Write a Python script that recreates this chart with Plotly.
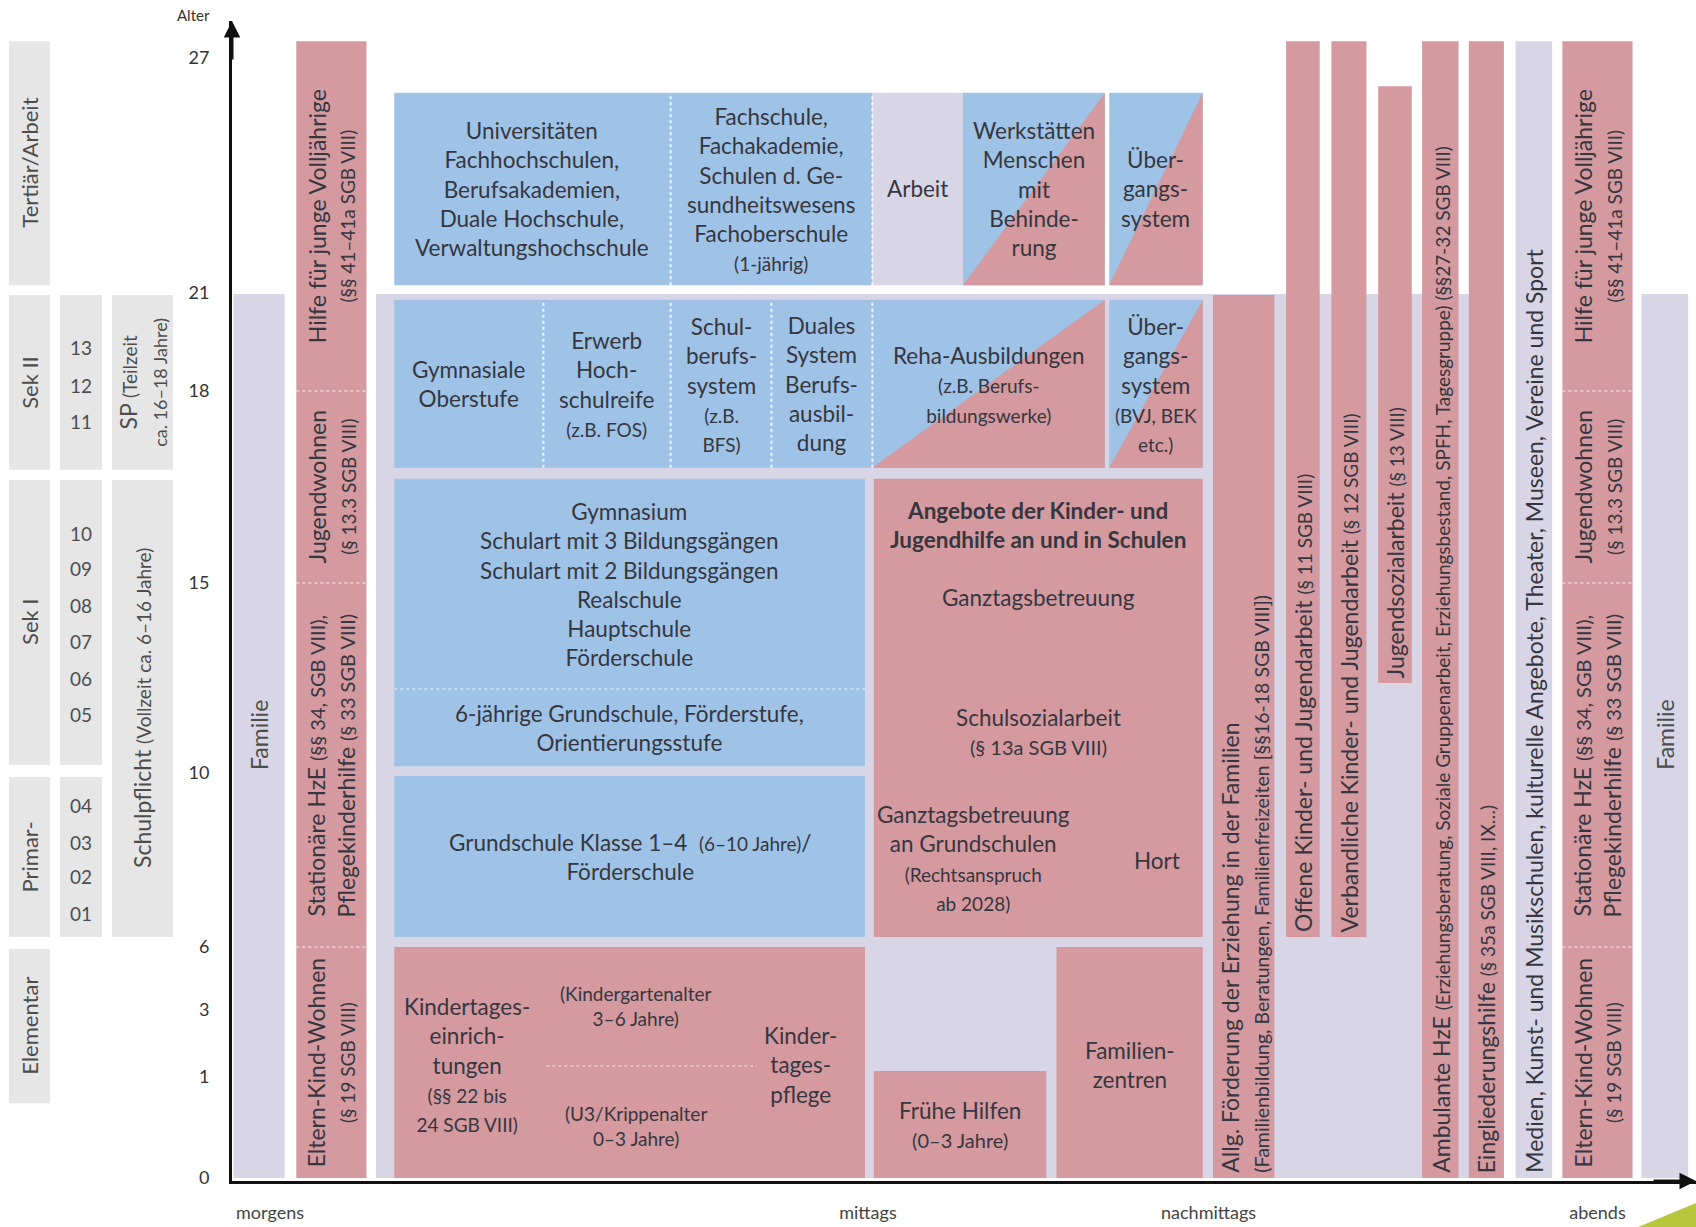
import numpy as np
import plotly.graph_objects as go

# ------------------------------------------------------------------ data
AGE_TICKS = [0, 1, 3, 6, 10, 15, 18, 21, 27]
TIME_LABELS = ["morgens", "mittags", "nachmittags", "abends"]
TIME_AT = [2.6, 43.5, 66.8, 93.4]            # Tageszeit-Skala 0 … 100

STAGE_NAMES = ["Tertiär/Arbeit", "Sek II", "Sek I", "Primar-", "Elementar"]
STAGE_FROM = [21.20, 16.77, 10.21, 6.23, 0.74]
STAGE_TO = [27.43, 20.94, 16.61, 9.91, 5.90]

GRADE_BLOCK_FROM = [16.77, 10.21, 6.23]
GRADE_BLOCK_TO = [20.94, 16.61, 9.91]
GRADE_LABELS = ["13", "12", "11", "10", "09", "08", "07", "06", "05", "04", "03", "02", "01"]
GRADE_AGE = [19.32, 18.18, 17.53, 15.78, 15.23, 14.42, 13.45, 12.5, 11.53, 9.26, 8.41, 7.61, 6.78]


def sm(t, s=19):
    return f"<span style='font-size:{s}px'>{t}</span>"


DUTY_LABELS = ["SP " + sm("(Teilzeit", 19) + "<br>" + sm("ca. 16–18 Jahre)", 18),
               "Schulpflicht " + sm("(Vollzeit ca. 6–16 Jahre)", 19)]
DUTY_FROM = [16.77, 6.23]
DUTY_TO = [20.94, 16.61]

# blocks: kind  f = Familie/Freizeit (lavendel), b = Bildung (blau), h = Hilfe (rosa), m = gemischt
BLOCK_KIND = ["f", "f", "f", "b", "f", "m", "m", "b", "m", "m", "b", "b", "h", "h", "h", "h",
              "h", "h", "h", "h", "h", "h", "h", "f", "h"]
BLOCK_X0 = [9.85, 0.1, 96.4, 11.1, 43.8, 50.0, 60.0, 11.1, 43.8, 60.0, 11.1, 11.1, 43.9, 11.1, 43.9, 56.4,
            4.4, 67.1, 72.1, 75.2, 78.4, 81.4, 84.6, 87.8, 91.0]
BLOCK_X1 = [87.0, 3.6, 99.6, 43.8, 50.0, 59.7, 66.4, 43.8, 59.7, 66.4, 43.3, 43.3, 66.4, 43.3, 55.7, 66.4,
            9.2, 71.3, 74.4, 77.6, 80.7, 83.9, 87.0, 90.3, 95.8]
BLOCK_FROM = [0, 0, 0, 21.20, 21.20, 21.20, 21.20, 16.80, 16.80, 16.80, 10.18, 6.23, 6.23, 0, 0, 0,
              0, 0, 6.23, 6.23, 12.37, 0, 0, 0, 0]
BLOCK_TO = [20.97, 20.97, 20.97, 26.11, 26.11, 26.11, 26.11, 20.79, 20.79, 20.79, 16.63, 9.93, 16.63, 6.0, 1.18, 6.0,
            27.43, 20.94, 27.43, 27.43, 26.28, 27.43, 27.43, 27.43, 27.43]

# dotted separators
VDIV_X = [30.0, 43.8, 21.3, 30.0, 36.9, 43.8]
VDIV_FROM = [21.20, 21.20, 16.80, 16.80, 16.80, 16.80]
VDIV_TO = [26.11, 26.11, 20.79, 20.79, 20.79, 20.79]
HDIV_AGE = [12.21, 1.33, 18, 15, 6, 18, 15, 6]
HDIV_X0 = [11.1, 21.5, 4.4, 4.4, 4.4, 91.0, 91.0, 91.0]
HDIV_X1 = [43.3, 35.9, 9.2, 9.2, 9.2, 95.8, 95.8, 95.8]

# centred horizontal labels
LABEL_TEXT = [
    "Universitäten<br>Fachhochschulen,<br>Berufsakademien,<br>Duale Hochschule,<br>Verwaltungshochschule",
    "Fachschule,<br>Fachakademie,<br>Schulen d. Ge-<br>sundheitswesens<br>Fachoberschule<br>" + sm("(1-jährig)"),
    "Arbeit",
    "Werkstätten<br>Menschen<br>mit<br>Behinde-<br>rung",
    "Über-<br>gangs-<br>system",
    "Gymnasiale<br>Oberstufe",
    "Erwerb<br>Hoch-<br>schulreife<br>" + sm("(z.B. FOS)"),
    "Schul-<br>berufs-<br>system<br>" + sm("(z.B.") + "<br>" + sm("BFS)"),
    "Duales<br>System<br>Berufs-<br>ausbil-<br>dung",
    "Reha-Ausbildungen<br>" + sm("(z.B. Berufs-") + "<br>" + sm("bildungswerke)"),
    "Über-<br>gangs-<br>system<br>" + sm("(BVJ, BEK") + "<br>" + sm("etc.)"),
    "Gymnasium<br>Schulart mit 3 Bildungsgängen<br>Schulart mit 2 Bildungsgängen<br>Realschule<br>Hauptschule<br>Förderschule",
    "6-jährige Grundschule, Förderstufe,<br>Orientierungsstufe",
    "Grundschule Klasse 1–4  " + sm("(6–10 Jahre)") + "/<br>Förderschule",
    "<b>Angebote der Kinder- und<br>Jugendhilfe an und in Schulen</b>",
    "Ganztagsbetreuung",
    "Schulsozialarbeit<br>" + sm("(§ 13a SGB VIII)", 20),
    "Ganztagsbetreuung<br>an Grundschulen<br>" + sm("(Rechtsanspruch") + "<br>" + sm("ab 2028)"),
    "Hort",
    "Kindertages-<br>einrich-<br>tungen<br>" + sm("(§§ 22 bis") + "<br>" + sm("24 SGB VIII)"),
    "(Kindergartenalter<br>3–6 Jahre)",
    "(U3/Krippenalter<br>0–3 Jahre)",
    "Kinder-<br>tages-<br>pflege",
    "Frühe Hilfen<br>" + sm("(0–3 Jahre)", 20),
    "Familien-<br>zentren",
]
LABEL_X = [20.55, 36.9, 46.9, 54.85, 63.2, 16.2, 25.65, 33.45, 40.35, 51.75, 63.2,
           27.2, 27.2, 27.2, 55.15, 55.15, 55.15, 50.7, 63.3, 16.1, 27.6, 27.6, 38.9, 49.8, 61.4]
LABEL_AGE = [23.66, 23.66, 23.66, 23.66, 23.66, 18.21, 18.21, 18.21, 18.21, 18.21, 18.21,
             14.97, 11.18, 8.07, 15.91, 14.61, 11.1, 8.05, 8.0, 1.36, 3.19, 0.51, 1.36, 0.53, 1.36]
LABEL_SIZE = [22.5] * 20 + [19, 19, 22.5, 22.5, 22.5]

# rotated labels centred in sections of the two residential columns
ROT_TEXT = [
    "Hilfe für junge Volljährige<br>" + sm("(§§ 41–41a SGB VIII)", 19),
    "Jugendwohnen<br>" + sm("(§ 13.3 SGB VIII)", 19),
    "Stationäre HzE " + sm("(§§ 34, SGB VIII),", 20) + "<br>Pflegekinderhilfe " + sm("(§ 33 SGB VIII)", 20),
    "Eltern-Kind-Wohnen<br>" + sm("(§ 19 SGB VIII)", 19),
]
ROT_AGE = [22.97, 16.5, 10.21, 1.45]
ROT_COLUMNS = [16, 24]
FAMILY_AGE = 11.0

# rotated labels anchored at the bottom of thin columns
COL_BLOCK = [17, 18, 19, 20, 21, 22, 23]
COL_TEXT = [
    "Allg. Förderung der Erziehung in der Familien<br>" + sm("(Familienbildung, Beratungen, Familienfreizeiten [§§16-18 SGB VIII])", 19.5),
    "Offene Kinder- und Jugendarbeit " + sm("(§ 11 SGB VIII)", 19),
    "Verbandliche Kinder- und Jugendarbeit " + sm("(§ 12 SGB VIII)", 19),
    "Jugendsozialarbeit " + sm("(§ 13 VIII)", 19),
    "Ambulante HzE " + sm("(Erziehungsberatung, Soziale Gruppenarbeit, Erziehungsbestand, SPFH, Tagesgruppe) (§§27-32 SGB VIII)", 19),
    "Eingliederungshilfe " + sm("(§ 35a SGB VIII, IX…)", 19),
    "Medien, Kunst- und Musikschulen, kulturelle Angebote, Theater, Museen, Vereine und Sport",
]

# ------------------------------------------------------------------ scale
AXIS_POS = [3, 104, 171, 234, 408, 598, 790, 888, 1123]   # schematic, non-linear age axis
_slope = (AXIS_POS[-1] - AXIS_POS[-2]) / (AGE_TICKS[-1] - AGE_TICKS[-2])
KNOT_AGE = AGE_TICKS + [AGE_TICKS[-1] + 5]
KNOT_POS = AXIS_POS + [AXIS_POS[-1] + 5 * _slope]


def Y(a):
    return float(np.interp(a, KNOT_AGE, KNOT_POS))


BLUE = "#9ec3e6"
PINK = "#d49a9f"
LAV = "#d8d6e6"
GREY = "#e6e6e6"
TXT = "#36363f"
LTXT = "#4d4d4d"
FONT = "Lato"
COLORS = {"f": LAV, "b": BLUE, "h": PINK, "m": BLUE}

shapes, anns = [], []


def rect(x0, x1, a0, a1, color, xref="x"):
    shapes.append(dict(type="rect", xref=xref, yref="y", x0=x0, x1=x1, y0=Y(a0), y1=Y(a1),
                       fillcolor=color, line=dict(width=0), layer="below"))


def ann(text, x, y, size, angle=0, xref="x", xanchor="center", yanchor="middle", color=TXT,
        align="center", yref="y"):
    anns.append(dict(text=text, x=x, y=y, xref=xref, yref=yref, showarrow=False, textangle=angle,
                     xanchor=xanchor, yanchor=yanchor, align=align,
                     font=dict(family=FONT, size=size, color=color)))


# blocks
for k, x0, x1, a0, a1 in zip(BLOCK_KIND, BLOCK_X0, BLOCK_X1, BLOCK_FROM, BLOCK_TO):
    rect(x0, x1, a0, a1, COLORS[k])
    if k == "m":
        y0, y1 = Y(a0), Y(a1)
        shapes.append(dict(type="path", xref="x", yref="y",
                           path=f"M {x0},{y0} L {x1},{y0} L {x1},{y1} Z",
                           fillcolor=PINK, line=dict(width=0), layer="below"))

# dotted separators
for x, a0, a1 in zip(VDIV_X, VDIV_FROM, VDIV_TO):
    shapes.append(dict(type="line", xref="x", yref="y", x0=x, x1=x, y0=Y(a0), y1=Y(a1),
                       line=dict(color="rgba(255,255,255,0.85)", width=2, dash="dot"), layer="below"))
for a, x0, x1 in zip(HDIV_AGE, HDIV_X0, HDIV_X1):
    shapes.append(dict(type="line", xref="x", yref="y", x0=x0, x1=x1, y0=Y(a), y1=Y(a),
                       line=dict(color="rgba(255,255,255,0.55)", width=1.5, dash="dot"), layer="below"))

# left legend panel (x2 in px units)
C1, C2, C3 = (9, 50), (60, 102), (112, 173)
for n, a0, a1 in zip(STAGE_NAMES, STAGE_FROM, STAGE_TO):
    rect(C1[0], C1[1], a0, a1, GREY, "x2")
    ann(n, (C1[0] + C1[1]) / 2, (Y(a0) + Y(a1)) / 2, 22, -90, "x2", color=LTXT)
for a0, a1 in zip(GRADE_BLOCK_FROM, GRADE_BLOCK_TO):
    rect(C2[0], C2[1], a0, a1, GREY, "x2")
for g, a in zip(GRADE_LABELS, GRADE_AGE):
    ann(g, (C2[0] + C2[1]) / 2, Y(a), 19, 0, "x2", color=LTXT)
for t, a0, a1 in zip(DUTY_LABELS, DUTY_FROM, DUTY_TO):
    rect(C3[0], C3[1], a0, a1, GREY, "x2")
    ann(t, (C3[0] + C3[1]) / 2, (Y(a0) + Y(a1)) / 2, 23, -90, "x2", color=LTXT)

# centred labels
for t, x, a, s in zip(LABEL_TEXT, LABEL_X, LABEL_AGE, LABEL_SIZE):
    ann(t, x, Y(a), s)

# residential columns
for b in ROT_COLUMNS:
    xc = (BLOCK_X0[b] + BLOCK_X1[b]) / 2
    for t, a in zip(ROT_TEXT, ROT_AGE):
        ann(t, xc, Y(a), 23, -90)
for b in (1, 2):
    ann("Familie", (BLOCK_X0[b] + BLOCK_X1[b]) / 2, Y(FAMILY_AGE), 23, -90, color=LTXT)

# bottom-anchored thin column labels
for b, t in zip(COL_BLOCK, COL_TEXT):
    xc = (BLOCK_X0[b] + BLOCK_X1[b]) / 2
    ann(t, xc, Y(BLOCK_FROM[b]) + 3, 23, -90, yanchor="bottom", align="left")

# axis title and arrows
ann("Alter", 193, 1.005, 15, 0, "x2", color="#333", yref="paper")
YTOP = 1160
anns.append(dict(x=0, y=YTOP, ax=0, ay=YTOP - 40, xref="x", yref="y", axref="x", ayref="y",
                 text="", showarrow=True, arrowhead=2, arrowsize=1.1, arrowwidth=3, arrowcolor="#111"))
XEND = 100.14
anns.append(dict(x=XEND, y=0, ax=XEND - 3, ay=0, xref="x", yref="y", axref="x", ayref="y",
                 text="", showarrow=True, arrowhead=2, arrowsize=1.1, arrowwidth=3, arrowcolor="#111"))

# decorative corner
shapes.append(dict(type="path", xref="paper", yref="paper",
                   path="M 0.9658,-0.0397 L 1.0,-0.019 L 1.0,-0.0397 Z",
                   fillcolor="#b7c63b", line=dict(width=0)))

fig = go.Figure()
fig.add_trace(go.Scatter(x=[None], y=[None], xaxis="x", yaxis="y", showlegend=False, hoverinfo="skip"))
fig.add_trace(go.Scatter(x=[None], y=[None], xaxis="x2", yaxis="y", showlegend=False, hoverinfo="skip"))

fig.update_layout(
    width=1696, height=1227,
    margin=dict(l=0, r=0, t=21, b=46),
    paper_bgcolor="white", plot_bgcolor="white",
    showlegend=False,
    font=dict(family=FONT, color=TXT),
    xaxis=dict(domain=[232 / 1696, 1], range=[0, XEND], anchor="y",
               showgrid=False, zeroline=False, showline=True, linecolor="#111", linewidth=3,
               tickvals=TIME_AT, ticktext=TIME_LABELS, ticks="outside", ticklen=13,
               tickcolor="rgba(0,0,0,0)", tickfont=dict(family=FONT, size=18, color="#444")),
    xaxis2=dict(domain=[0, 232 / 1696], range=[0, 232], anchor="y", visible=False),
    yaxis=dict(domain=[0, 1], range=[0, 1160], anchor="x",
               showgrid=False, zeroline=False, showline=True, linecolor="#111", linewidth=3,
               tickvals=[Y(a) for a in AGE_TICKS], ticktext=[str(a) for a in AGE_TICKS],
               ticks="outside", ticklen=16, tickcolor="rgba(0,0,0,0)",
               tickfont=dict(family=FONT, size=18, color="#333")),
    shapes=shapes,
    annotations=anns,
)

fig.write_html("out.html", config={"displayModeBar": False},
               post_script="document.body.style.margin='0';document.body.style.padding='0';")
